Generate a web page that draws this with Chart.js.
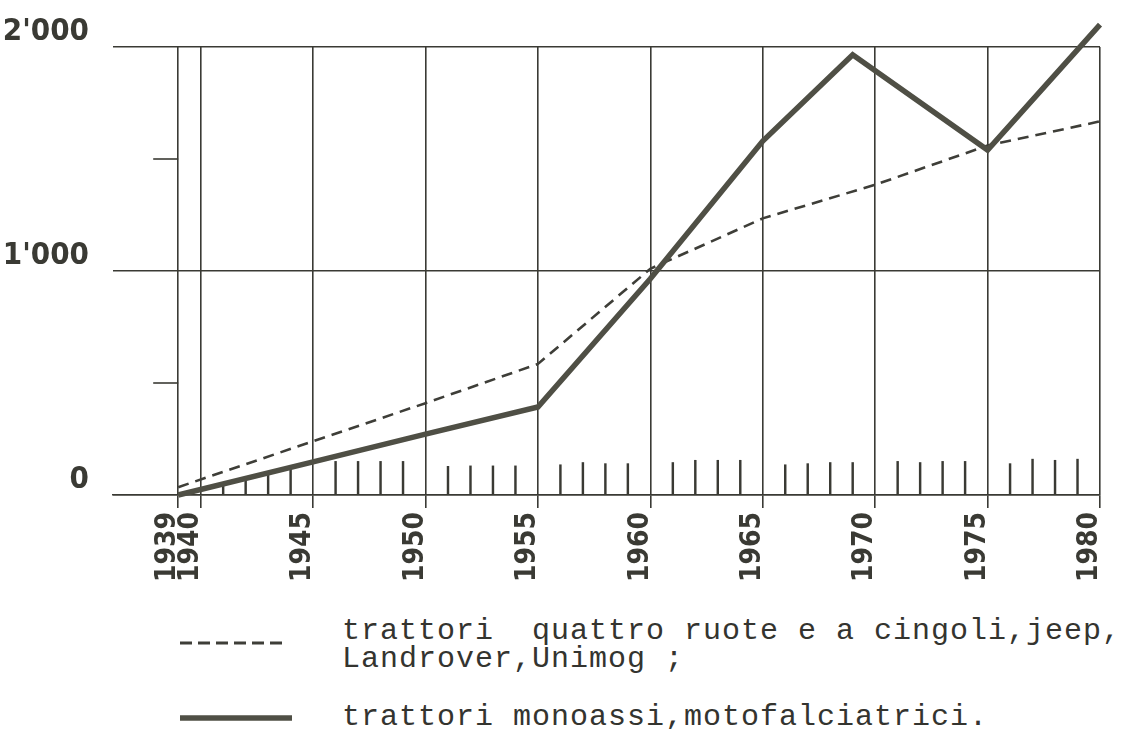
<!DOCTYPE html>
<html><head><meta charset="utf-8">
<script src="https://cdn.jsdelivr.net/npm/chart.js@4/dist/chart.umd.min.js"></script>
<style>
html,body{margin:0;padding:0;background:#fff;}
#wrap{position:relative;width:1123px;height:729px;overflow:hidden;background:#fff;}
#c{position:absolute;left:0;top:0;}
.leg{position:absolute;font-family:"Liberation Mono","DejaVu Sans Mono",monospace;font-size:30px;color:#34342f;letter-spacing:1px;white-space:pre;line-height:28px;}
.sw{position:absolute;}
</style></head>
<body><div id="wrap">
<canvas id="c" width="1123" height="600"></canvas>
<svg class="sw" style="left:178px;top:636px" width="112" height="14"><line x1="2" y1="7" x2="110" y2="7" stroke="#3e3e38" stroke-width="3" stroke-dasharray="12 6"/></svg>
<svg class="sw" style="left:178px;top:710px" width="116" height="16"><line x1="2" y1="8" x2="114" y2="8" stroke="#4f4f45" stroke-width="5.5"/></svg>
<div class="leg" id="l1" style="left:342px;top:617px;"></div>
<div class="leg" id="l2" style="left:342px;top:703px;"></div>
</div>
<script>
// ---- data ----
const majorYears = [1939, 1940, 1945, 1950, 1955, 1960, 1965, 1970, 1975, 1980];
const yTickValues = [0, 500, 1000, 1500, 2000];
const yTickLabels = {0: "0", 1000: "1'000", 2000: "2'000"};
const minorYTicks = [500, 1500];

const dashedYears  = [1939, 1945, 1950, 1955, 1960, 1965, 1970, 1975, 1980];
const dashedValues = [35, 240, 410, 585, 1010, 1235, 1385, 1560, 1668];

const solidYears  = [1939, 1945, 1950, 1955, 1960, 1965, 1969, 1975, 1980];
const solidValues = [0, 148, 272, 393, 965, 1580, 1965, 1540, 2100];

const tickYears   = [1941,1942,1943,1944, 1946,1947,1948,1949, 1951,1952,1953,1954, 1956,1957,1958,1959,
                     1961,1962,1963,1964, 1966,1967,1968,1969, 1971,1972,1973,1974, 1976,1977,1978,1979];
const tickHeights = [40,70,95,125, 150,150,150,150, 128,130,130,130, 135,145,140,140,
                     145,155,155,155, 135,140,145,145, 150,145,150,150, 140,160,155,160];

const legend1 = "trattori  quattro ruote e a cingoli,jeep,\nLandrover,Unimog ;";
const legend2 = "trattori monoassi,motofalciatrici.";
document.getElementById('l1').textContent = legend1;
document.getElementById('l2').textContent = legend2;

const INK = '#3a3a34';
const COND = '"DejaVu Sans Condensed","Liberation Sans Narrow","Liberation Sans",sans-serif';

const minorTickPlugin = {
  id: 'minorYTicks',
  beforeDatasetsDraw(chart) {
    const {ctx, scales: {x, y}} = chart;
    const x0 = x.getPixelForValue(majorYears[0]);
    ctx.save();
    ctx.strokeStyle = INK;
    ctx.lineWidth = 1.6;
    minorYTicks.forEach(v => {
      const py = y.getPixelForValue(v);
      ctx.beginPath();
      ctx.moveTo(x0 - 25, py);
      ctx.lineTo(x0, py);
      ctx.stroke();
    });
    ctx.restore();
  }
};

new Chart(document.getElementById('c'), {
  data: {
    datasets: [
      {
        type: 'line',
        data: solidYears.map((yr, i) => ({x: yr, y: solidValues[i]})),
        borderColor: '#4f4f45',
        borderWidth: 5.5,
        borderJoinStyle: 'miter',
        pointRadius: 0,
        tension: 0,
        clip: false,
        order: 0
      },
      {
        type: 'line',
        data: dashedYears.map((yr, i) => ({x: yr, y: dashedValues[i]})),
        borderColor: '#3e3e38',
        borderWidth: 2.6,
        borderDash: [11, 7],
        pointRadius: 0,
        tension: 0,
        clip: false,
        order: 1
      },
      {
        type: 'bar',
        data: tickYears.map((yr, i) => ({x: yr, y: tickHeights[i]})),
        backgroundColor: INK,
        barThickness: 1.8,
        order: 2
      }
    ]
  },
  options: {
    responsive: false,
    animation: false,
    events: [],
    layout: {padding: {top: 47, right: 23, left: 0, bottom: 0}},
    plugins: {legend: {display: false}, tooltip: {enabled: false}},
    scales: {
      x: {
        type: 'linear',
        min: 1936.1,
        max: 1980,
        offset: false,
        afterBuildTicks: axis => { axis.ticks = majorYears.map(v => ({value: v})); },
        afterFit: axis => { axis.height = 105; axis.paddingLeft = 0; axis.paddingRight = 0; },
        grid: {offset: false, color: INK, lineWidth: 1.6, drawTicks: true, tickLength: 13, tickColor: INK},
        border: {display: true, color: INK, width: 1.6},
        ticks: {
          autoSkip: false,
          maxRotation: 90, minRotation: 90,
          padding: 4,
          labelOffset: -10,
          color: INK,
          font: {family: COND, weight: 'bold', size: 28},
          callback: v => String(v)
        }
      },
      y: {
        type: 'linear',
        min: 0,
        max: 2000,
        afterBuildTicks: axis => { axis.ticks = yTickValues.map(v => ({value: v})); },
        afterFit: axis => { axis.width = 113; axis.paddingTop = 0; axis.paddingBottom = 0; },
        grid: {
          color: ctx => (ctx.tick && minorYTicks.includes(ctx.tick.value)) ? 'rgba(0,0,0,0)' : INK,
          lineWidth: 1.6,
          drawTicks: false
        },
        border: {display: false},
        ticks: {
          padding: 24,
          labelOffset: -15,
          color: INK,
          font: {family: COND, weight: 'bold', size: 31},
          callback: v => (yTickLabels[v] !== undefined ? yTickLabels[v] : '')
        }
      }
    }
  },
  plugins: [minorTickPlugin]
});
</script>
</body></html>
